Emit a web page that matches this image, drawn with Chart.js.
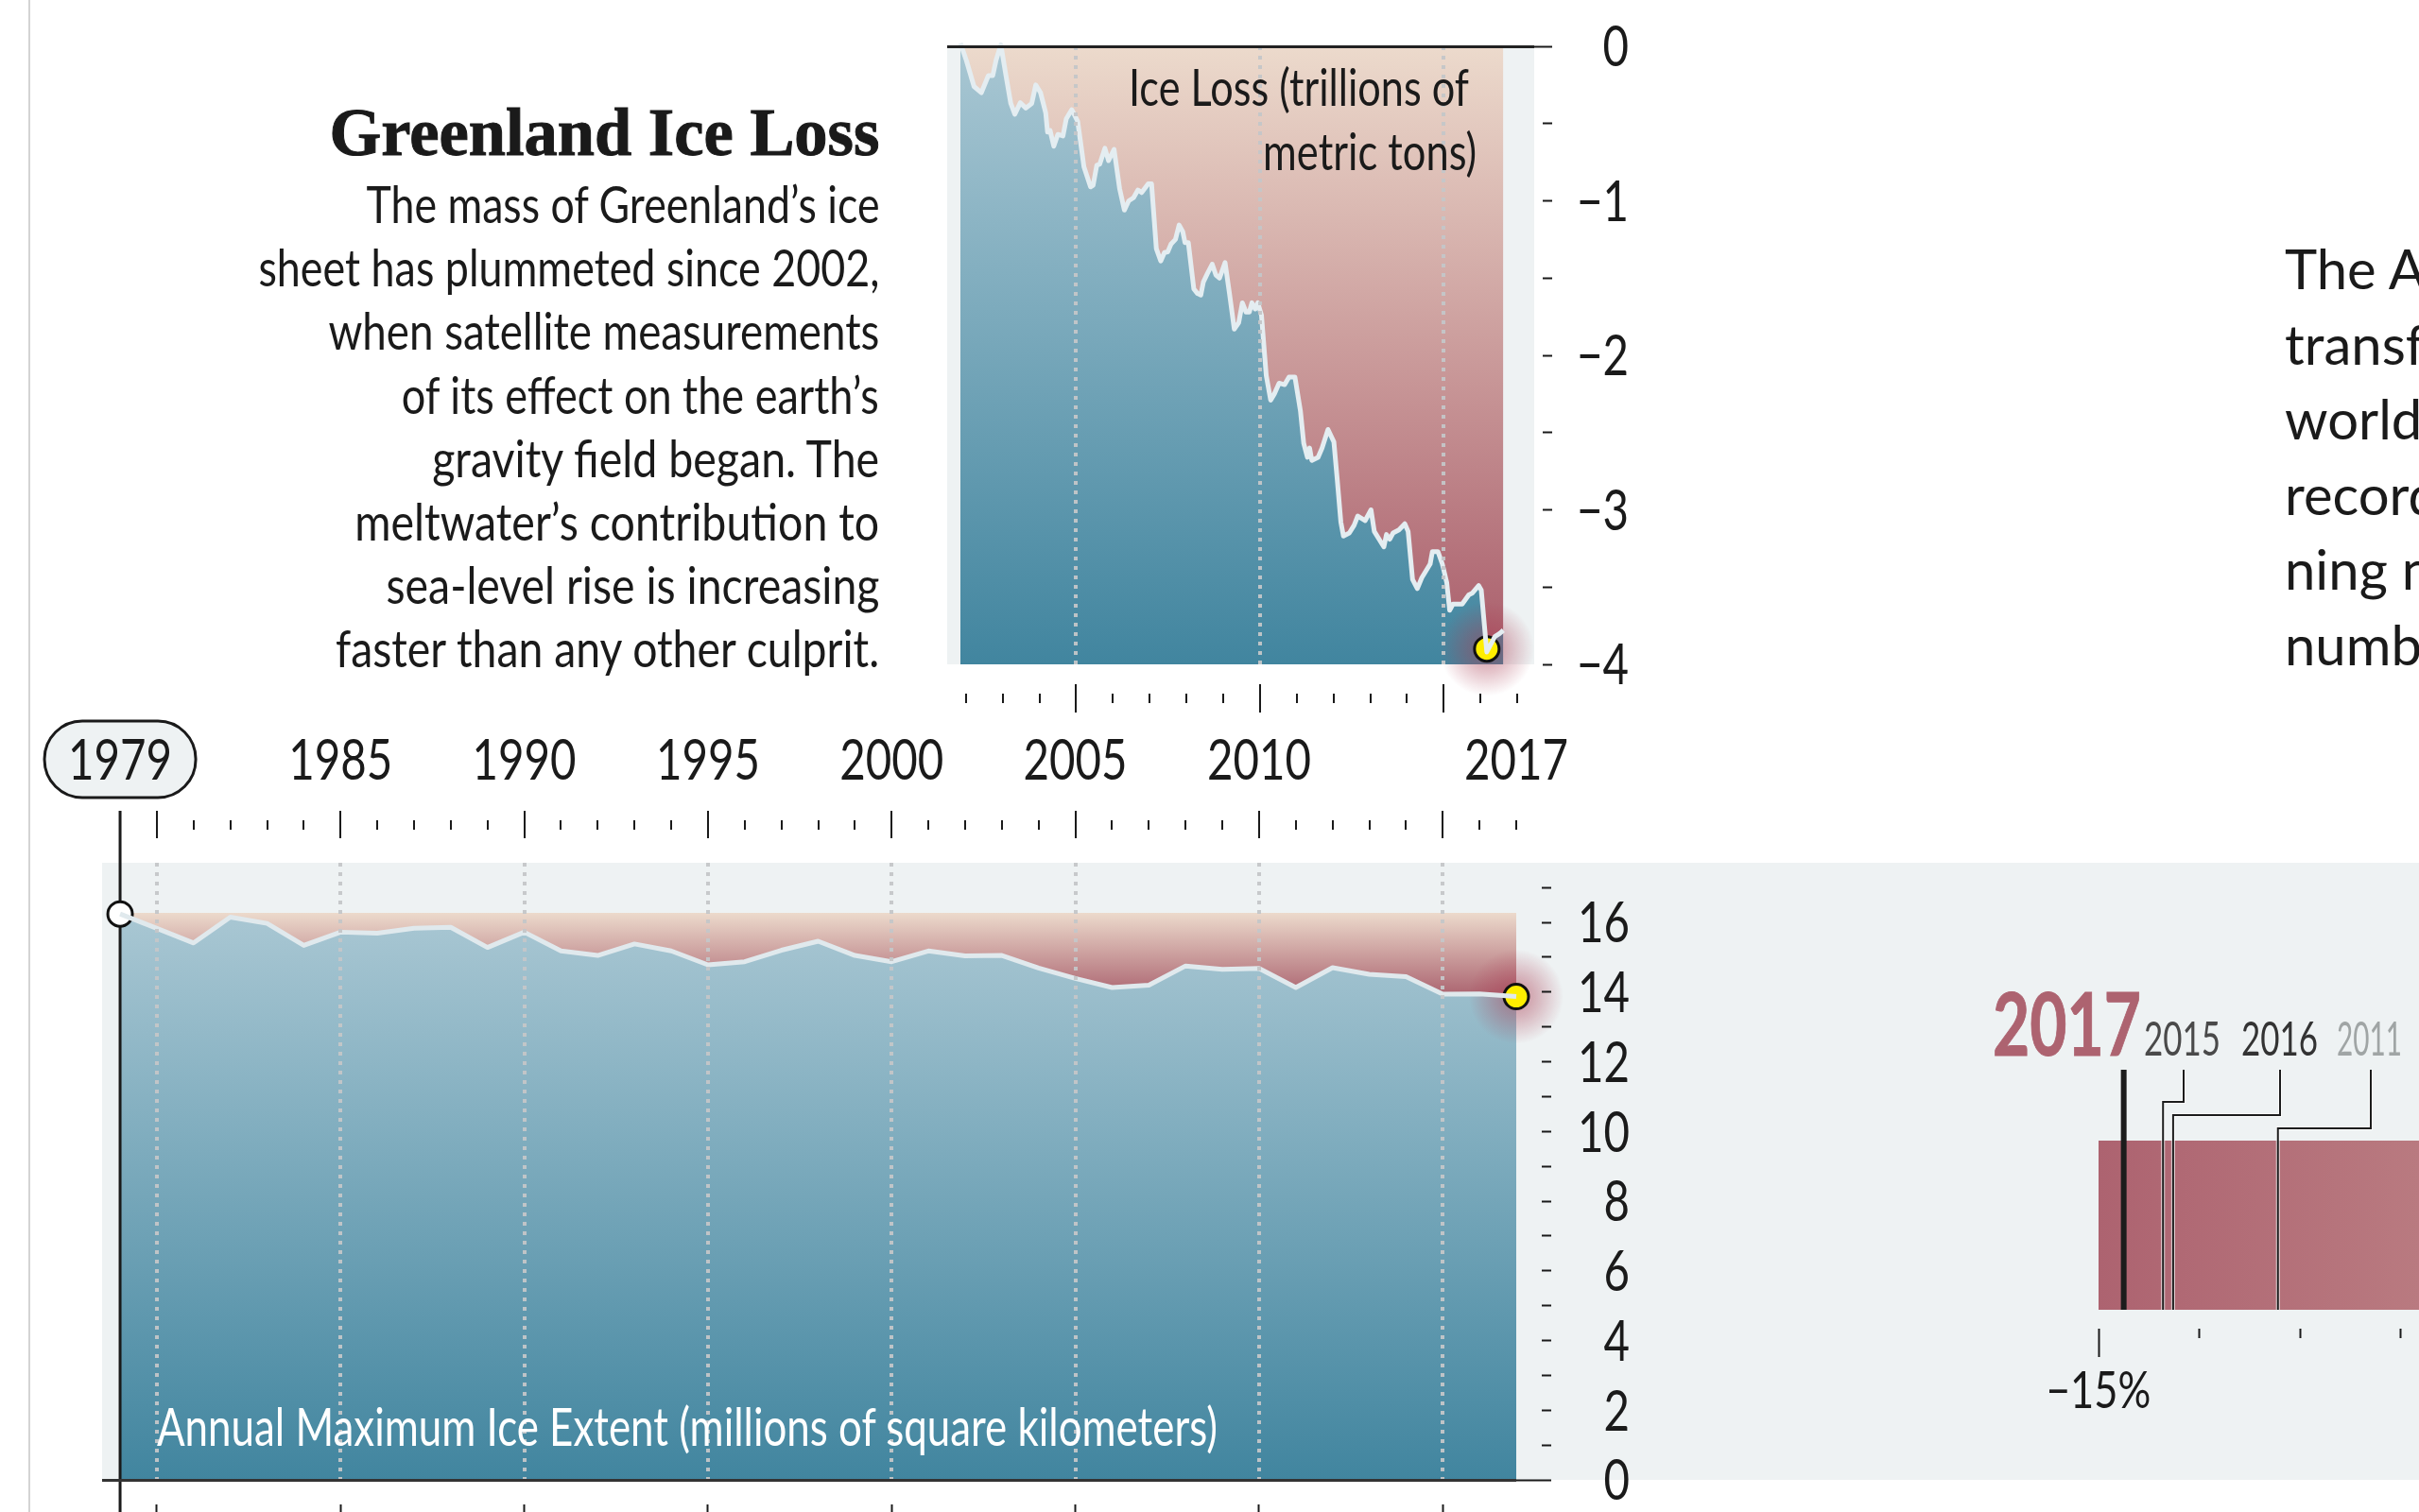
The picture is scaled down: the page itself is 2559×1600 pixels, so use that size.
<!DOCTYPE html>
<html>
<head>
<meta charset="utf-8">
<title>Greenland Ice Loss</title>
<script src="https://cdn.jsdelivr.net/npm/chart.js@4/dist/chart.umd.js"></script>
<style>
  html, body { margin: 0; padding: 0; background: #fff; }
  body { position: relative; width: 2559px; height: 1600px; overflow: hidden; }
  canvas { position: absolute; left: 0; top: 0; }
  .panel { position: absolute; background: #eef2f3; }
  .txt { position: absolute; white-space: nowrap; color: #1a1a1a; z-index: 5; }
</style>
</head>
<body>
<div style="position:absolute;left:30px;top:0;width:2px;height:1600px;background:#d4d4d4"></div>
<div class="panel" style="left:108px;top:913px;width:2451px;height:653px"></div>
<div class="panel" style="left:1002px;top:49px;width:621px;height:654px"></div>
<canvas id="iceLossChart" width="2559" height="1600"></canvas>
<canvas id="extentChart" width="2559" height="1600"></canvas>
<canvas id="rankChart" width="2559" height="1600"></canvas>
<script>
// Greenland mass, trillions of metric tons
const iceYears = [2001.85,2002.01,2002.22,2002.42,2002.61,2002.73,2002.82,2002.95,2003.09,2003.22,2003.33,2003.48,2003.63,2003.79,2003.90,2004.03,2004.17,2004.22,2004.29,2004.39,2004.50,2004.64,2004.73,2004.88,2005.04,2005.14,2005.21,2005.39,2005.46,2005.56,2005.64,2005.78,2005.88,2006.03,2006.18,2006.31,2006.43,2006.56,2006.68,2006.78,2006.96,2007.05,2007.18,2007.30,2007.40,2007.49,2007.58,2007.70,2007.80,2007.90,2007.96,2008.05,2008.20,2008.30,2008.39,2008.46,2008.57,2008.70,2008.80,2008.90,2009.05,2009.17,2009.30,2009.42,2009.52,2009.62,2009.71,2009.78,2009.87,2009.94,2010.04,2010.17,2010.29,2010.39,2010.52,2010.67,2010.79,2010.95,2011.10,2011.19,2011.29,2011.35,2011.41,2011.58,2011.69,2011.85,2012.01,2012.10,2012.20,2012.27,2012.43,2012.56,2012.66,2012.86,2013.02,2013.11,2013.37,2013.44,2013.53,2013.62,2013.78,2013.94,2014.03,2014.15,2014.28,2014.40,2014.63,2014.69,2014.84,2014.96,2015.08,2015.16,2015.25,2015.50,2015.68,2015.77,2015.95,2016.02,2016.17,2016.39,2016.52,2016.62];
const iceLoss = [0.02,-0.09,-0.26,-0.30,-0.19,-0.19,-0.09,0.01,-0.19,-0.37,-0.44,-0.365,-0.40,-0.37,-0.25,-0.30,-0.43,-0.555,-0.545,-0.647,-0.57,-0.58,-0.47,-0.41,-0.485,-0.657,-0.78,-0.91,-0.90,-0.77,-0.763,-0.66,-0.74,-0.667,-0.92,-1.06,-1.00,-0.98,-0.93,-0.947,-0.89,-0.89,-1.31,-1.39,-1.335,-1.33,-1.28,-1.25,-1.157,-1.20,-1.27,-1.27,-1.57,-1.60,-1.61,-1.525,-1.47,-1.41,-1.48,-1.50,-1.40,-1.60,-1.83,-1.79,-1.66,-1.72,-1.72,-1.66,-1.70,-1.66,-1.74,-2.13,-2.29,-2.25,-2.18,-2.19,-2.14,-2.14,-2.36,-2.57,-2.66,-2.60,-2.68,-2.66,-2.60,-2.48,-2.56,-2.80,-3.08,-3.17,-3.15,-3.10,-3.04,-3.07,-3.00,-3.14,-3.24,-3.16,-3.19,-3.15,-3.13,-3.09,-3.14,-3.45,-3.51,-3.44,-3.35,-3.27,-3.27,-3.35,-3.47,-3.65,-3.61,-3.61,-3.55,-3.54,-3.49,-3.52,-3.92,-3.82,-3.80,-3.78];
const iceDot = { x: 2016.17, y: -3.9 };
const iceYTicks = [0,-0.5,-1,-1.5,-2,-2.5,-3,-3.5,-4];
const iceXTicks = [2002,2003,2004,2005,2006,2007,2008,2009,2010,2011,2012,2013,2014,2015,2016,2017];

// annual maximum extent, millions of square kilometers
const extentYears = [1979,1980,1981,1982,1983,1984,1985,1986,1987,1988,1989,1990,1991,1992,1993,1994,1995,1996,1997,1998,1999,2000,2001,2002,2003,2004,2005,2006,2007,2008,2009,2010,2011,2012,2013,2014,2015,2016,2017];
const extentMax = [16.24,15.83,15.41,16.15,15.97,15.34,15.72,15.69,15.83,15.86,15.28,15.72,15.18,15.05,15.38,15.18,14.78,14.87,15.20,15.46,15.05,14.87,15.18,15.04,15.05,14.69,14.39,14.13,14.20,14.75,14.65,14.68,14.13,14.70,14.51,14.44,13.94,13.95,13.87];
const extentYTicks = [0,1,2,3,4,5,6,7,8,9,10,11,12,13,14,15,16,17];
const yearLabels = [1979,1985,1990,1995,2000,2005,2010,2017];
const baselineTicks = [1980,1985,1990,1995,2000,2005,2010,2015];

// ranking strip, percent
const rankTicks = [-15,-14,-13,-12];
const rankRange = [-15,-11.82];
const rankYears = [2017,2015,2016,2011];
const rankValues = [-14.75,-14.36,-14.26,-13.22];

// text
const bodyLines = ["The mass of Greenland\u2019s ice","sheet has plummeted since 2002,","when satellite measurements","of its effect on the earth\u2019s","gravity field began. The","meltwater\u2019s contribution to","sea-level rise is increasing","faster than any other culprit."];
const bodyWidths = [543,657,583,505,473,555,522,575];
const sideLines = ["The A","transf","world","record","ning n","numb"];

const FONT = 'Lato';
const INK = '#1a1a1a';
const DOT_GRID = 'rgba(196,198,200,0.95)';
const SQUEEZE = 0.79;

function isMajorYear(v) { return v % 5 === 0; }

// the labels are a condensed face: squeeze Lato around each text anchor
function condenseCanvasText(id) {
  const ctx = document.getElementById(id).getContext('2d');
  const fill = ctx.fillText.bind(ctx);
  ctx.fillText = (t, x, y) => {
    ctx.save();
    ctx.translate(x, y + 2);
    ctx.scale(SQUEEZE, 1);
    fill(t, 0, 0);
    ctx.restore();
  };
}
['iceLossChart', 'extentChart', 'rankChart'].forEach(condenseCanvasText);

// exact axis boxes, no room reserved for overhanging labels
function fixBox(s, size) {
  if (s.isHorizontal()) s.height = size; else s.width = size;
  s.paddingTop = s.paddingBottom = s.paddingLeft = s.paddingRight = 0;
}

function vGrad(chart, y0, y1, c0, c1) {
  const s = chart.scales.y;
  const p0 = s.getPixelForValue(y0), p1 = s.getPixelForValue(y1);
  if (!Number.isFinite(p0) || !Number.isFinite(p1)) return 'transparent';
  const g = chart.ctx.createLinearGradient(0, p0, 0, p1);
  g.addColorStop(0, c0);
  g.addColorStop(1, c1);
  return g;
}

function glow(chart, pt, r) {
  const x = chart.scales.x.getPixelForValue(pt.x), y = chart.scales.y.getPixelForValue(pt.y);
  const c = chart.ctx;
  const g = c.createRadialGradient(x, y, 0, x, y, r);
  g.addColorStop(0, 'rgba(170,62,84,0.58)');
  g.addColorStop(0.5, 'rgba(170,62,84,0.3)');
  g.addColorStop(1, 'rgba(170,62,84,0)');
  c.save();
  c.fillStyle = g;
  c.beginPath();
  c.arc(x, y, r, 0, Math.PI * 2);
  c.fill();
  c.restore();
}

function xy(xs, ys) { return xs.map((x, i) => ({ x: x, y: ys[i] })); }

const baseOptions = {
  responsive: false,
  animation: false,
  devicePixelRatio: 1,
  events: [],
  plugins: { legend: { display: false }, tooltip: { enabled: false } }
};

// ---------- top chart ----------
new Chart(document.getElementById('iceLossChart'), {
  type: 'line',
  data: {
    datasets: [
      { data: xy(iceYears, iceLoss), borderColor: '#e4edf1', borderWidth: 5, borderJoinStyle: 'round', pointRadius: 0, fill: false, clip: false },
      { data: [iceDot], showLine: false, pointRadius: 13, pointBackgroundColor: '#ffee00', pointBorderColor: '#111', pointBorderWidth: 3, clip: false },
      { data: xy(iceYears, iceLoss), borderWidth: 0, pointRadius: 0, fill: { value: 0 },
        backgroundColor: c => vGrad(c.chart, 0, -3.75, '#ecdacc', '#ad6470') },
      { data: xy(iceYears, iceLoss), borderWidth: 0, pointRadius: 0, fill: { value: -4 },
        backgroundColor: c => vGrad(c.chart, 0, -4, '#a9c7d3', '#41859f') }
    ]
  },
  options: {
    ...baseOptions,
    layout: { autoPadding: false, padding: { left: 1002, top: 49, right: 836, bottom: 846 } },
    scales: {
      x: {
        type: 'linear', position: 'bottom', min: 2001.49, max: 2017.46,
        afterBuildTicks: s => { s.ticks = iceXTicks.map(v => ({ value: v })); },
        afterFit: s => fixBox(s, 51),
        border: { display: false, dash: [4, 6] },
        ticks: { display: false, autoSkip: false },
        grid: {
          z: 1, lineWidth: 4, tickLength: 51, tickWidth: 2, tickColor: INK,
          color: c => (isMajorYear(c.tick.value) ? DOT_GRID : 'transparent'),
          tickBorderDash: c => (isMajorYear(c.tick.value) ? [30, 21] : [10, 41]),
          tickBorderDashOffset: c => (isMajorYear(c.tick.value) ? 30 : 20)
        }
      },
      y: {
        type: 'linear', position: 'right', min: -4, max: 0,
        afterBuildTicks: s => { s.ticks = iceYTicks.map(v => ({ value: v })); },
        afterFit: s => fixBox(s, 100),
        border: { display: false },
        ticks: {
          autoSkip: false, crossAlign: 'far', padding: 0, color: INK,
          font: { family: FONT, size: 60 },
          callback: v => (Number.isInteger(v) ? (v < 0 ? '\u2212' + (-v) : '0') : '')
        },
        grid: {
          z: 1, lineWidth: 3, tickLength: 19, tickWidth: 2, tickColor: INK,
          color: c => (c.tick.value === 0 ? '#222' : 'transparent'),
          tickBorderDash: c => (c.tick.value === 0 ? [] : [10, 9]),
          tickBorderDashOffset: c => (c.tick.value === 0 ? 0 : 10)
        }
      }
    }
  },
  plugins: [{
    id: 'iceGlow',
    afterDatasetDraw(chart, args) { if (args.index === 2) glow(chart, iceDot, 50); }
  }]
});

// ---------- bottom chart ----------
const extentFirst = { x: extentYears[0], y: extentMax[0] };
const extentLast = { x: extentYears[extentYears.length - 1], y: extentMax[extentMax.length - 1] };

new Chart(document.getElementById('extentChart'), {
  type: 'line',
  data: {
    datasets: [
      { data: xy(extentYears, extentMax), borderColor: '#e0e9ed', borderWidth: 5, borderJoinStyle: 'round', pointRadius: 0, fill: false, clip: false },
      { data: [extentLast], showLine: false, pointRadius: 13, pointBackgroundColor: '#ffee00', pointBorderColor: '#111', pointBorderWidth: 3, clip: false },
      { data: [extentFirst], showLine: false, pointRadius: 13, pointBackgroundColor: '#fff', pointBorderColor: '#111', pointBorderWidth: 3, clip: false },
      { data: xy(extentYears, extentMax), borderWidth: 0, pointRadius: 0, fill: { value: 16.27 },
        backgroundColor: c => vGrad(c.chart, 16.27, 13.9, '#ecdacc', '#ab6470') },
      { data: xy(extentYears, extentMax), borderWidth: 0, pointRadius: 0, fill: { value: 0 },
        backgroundColor: c => vGrad(c.chart, 16.27, 0, '#a9c7d3', '#41859f') }
    ]
  },
  options: {
    ...baseOptions,
    layout: { autoPadding: false, padding: { left: 108, top: 733, right: 835, bottom: 0 } },
    scales: {
      x: {
        type: 'linear', position: 'top', min: 1978.51, max: 2017,
        afterBuildTicks: s => { s.ticks = extentYears.map(v => ({ value: v })); },
        afterFit: s => fixBox(s, 180),
        border: { display: false, dash: [4, 6] },
        ticks: {
          autoSkip: false, maxRotation: 0, padding: 18, color: INK,
          font: { family: FONT, size: 60 },
          callback: v => (yearLabels.includes(v) ? String(v) : '')
        },
        grid: {
          z: 1, lineWidth: 4, tickLength: 55, tickWidth: 2,
          color: c => (isMajorYear(c.tick.value) ? DOT_GRID : 'transparent'),
          tickColor: c => (c.tick.value === 1979 ? 'transparent' : INK),
          tickBorderDash: c => (isMajorYear(c.tick.value) ? [29, 26] : [10, 45]),
          tickBorderDashOffset: c => (isMajorYear(c.tick.value) ? 0 : 45)
        }
      },
      x2: {
        type: 'linear', position: 'bottom', min: 1978.51, max: 2017,
        afterBuildTicks: s => { s.ticks = baselineTicks.map(v => ({ value: v })); },
        afterFit: s => fixBox(s, 34),
        border: { display: false },
        ticks: { display: false, autoSkip: false },
        grid: { drawOnChartArea: false, tickLength: 34, tickWidth: 2, tickColor: INK, tickBorderDash: [8, 26], tickBorderDashOffset: 8 }
      },
      y: {
        type: 'linear', position: 'right', min: 0, max: 17.71,
        afterBuildTicks: s => { s.ticks = extentYTicks.map(v => ({ value: v })); },
        afterFit: s => fixBox(s, 120),
        border: { display: false },
        ticks: {
          autoSkip: false, crossAlign: 'far', padding: -4, color: INK,
          font: { family: FONT, size: 60 },
          callback: v => (v % 2 === 0 ? String(v) : '')
        },
        grid: {
          z: 1, lineWidth: 3, tickLength: 37, tickWidth: 2, tickColor: INK,
          color: c => (c.tick.value === 0 ? '#333' : 'transparent'),
          tickBorderDash: c => (c.tick.value === 0 ? [] : [10, 27]),
          tickBorderDashOffset: c => (c.tick.value === 0 ? 0 : 10)
        }
      }
    }
  },
  plugins: [{
    id: 'extentExtras',
    beforeDraw(chart) {
      // pill behind the 1979 label
      const c = chart.ctx, x = chart.scales.x.getPixelForValue(1979);
      c.save();
      c.beginPath();
      c.roundRect(x - 80, 763, 160, 81, 40);
      c.fillStyle = '#eef2f3';
      c.fill();
      c.lineWidth = 3;
      c.strokeStyle = INK;
      c.stroke();
      c.restore();
    },
    afterDatasetDraw(chart, args) {
      if (args.index !== 3) return;
      const c = chart.ctx, x = chart.scales.x.getPixelForValue(1979);
      glow(chart, extentLast, 50);
      c.save();
      c.strokeStyle = INK;
      c.lineWidth = 3;
      c.beginPath();
      c.moveTo(x, 858);
      c.lineTo(x, 1600);
      c.stroke();
      c.restore();
    }
  }]
});

// ---------- ranking strip ----------
new Chart(document.getElementById('rankChart'), {
  type: 'bar',
  data: {
    labels: ['Extent'],
    datasets: [{
      data: [rankRange],
      barPercentage: 1, categoryPercentage: 1, borderWidth: 0,
      backgroundColor: c => {
        const s = c.chart.scales.x;
        const p0 = s.getPixelForValue(-15), p1 = s.getPixelForValue(-11.82);
        if (!Number.isFinite(p0) || !Number.isFinite(p1)) return 'transparent';
        const g = c.chart.ctx.createLinearGradient(p0, 0, p1, 0);
        g.addColorStop(0, '#ad6370');
        g.addColorStop(1, '#b97a80');
        return g;
      }
    }]
  },
  options: {
    ...baseOptions,
    indexAxis: 'y',
    layout: { autoPadding: false, padding: { left: 2220, top: 1207, right: 0, bottom: 64 } },
    scales: {
      x: {
        type: 'linear', position: 'bottom', min: rankRange[0], max: rankRange[1],
        afterBuildTicks: s => { s.ticks = rankTicks.map(v => ({ value: v })); },
        afterFit: s => fixBox(s, 150),
        border: { display: false },
        ticks: {
          autoSkip: false, maxRotation: 0, padding: 1, color: INK,
          font: { family: FONT, size: 55 },
          callback: v => (v === -15 ? '\u221215%' : '')
        },
        grid: {
          drawOnChartArea: false, tickLength: 50, tickWidth: 2, tickColor: INK,
          tickBorderDash: c => (c.tick.value === -15 ? [30, 20] : [10, 40]),
          tickBorderDashOffset: 30
        }
      },
      y: { display: false }
    }
  },
  plugins: [{
    id: 'rankMarkers',
    afterDatasetsDraw(chart) {
      const c = chart.ctx, s = chart.scales.x;
      const top = 1132, bottom = chart.chartArea.bottom;
      const xs = rankValues.map(v => s.getPixelForValue(v));
      // leader lines: [label x, elbow y] for every year but the first
      const leaders = [null, [2310, 1166], [2412, 1180], [2508, 1194]];
      c.save();
      xs.forEach((x, i) => {
        const path = leaders[i]
          ? [[leaders[i][0], top], [leaders[i][0], leaders[i][1]], [x, leaders[i][1]], [x, bottom]]
          : [[x, top], [x, bottom]];
        const trace = () => {
          c.beginPath();
          path.forEach((p, j) => (j ? c.lineTo(p[0], p[1]) : c.moveTo(p[0], p[1])));
          c.stroke();
        };
        c.lineJoin = 'miter';
        if (leaders[i]) {
          c.strokeStyle = 'rgba(255,255,255,0.75)';
          c.lineWidth = 4;
          trace();
        }
        c.strokeStyle = '#1c1c1c';
        c.lineWidth = leaders[i] ? 2 : 6;
        trace();
      });
      c.restore();
    }
  }]
});

// ---------- text ----------
// x is the anchor (right edge when alignRight), width squeezes the line to the reference width
function addText(str, x, baseline, css, alignRight, width) {
  const d = document.createElement('div');
  d.className = 'txt';
  d.style.cssText = css;
  d.textContent = str;
  if (alignRight) d.style.right = (2559 - x) + 'px'; else d.style.left = x + 'px';
  const mark = document.createElement('span');
  mark.style.cssText = 'display:inline-block;width:0;height:0';
  d.appendChild(mark);
  document.body.appendChild(d);
  d.style.top = '0px';
  d.style.top = (baseline - mark.getBoundingClientRect().bottom) + 'px';
  if (width) {
    d.style.transformOrigin = alignRight ? 'right center' : 'left center';
    d.style.transform = `scaleX(${width / d.getBoundingClientRect().width})`;
  }
}

const latoCss = size => `font-family:${FONT};font-size:${size}px;`;

addText('Greenland Ice Loss', 930, 164, 'font-family:"Liberation Serif";font-weight:700;font-size:71px;-webkit-text-stroke:1px #1a1a1a;', true, 582);
bodyLines.forEach((line, i) => addText(line, 930, 236 + i * 67.2, latoCss(54), true, bodyWidths[i]));
addText('Ice Loss (trillions of', 1554, 112, latoCss(55), true, 360);
addText('metric tons)', 1562, 180, latoCss(55), true, 226);
addText('Annual Maximum Ice Extent (millions of square kilometers)', 166, 1530, latoCss(57) + 'color:#fff;', false, 1122);
sideLines.forEach((line, i) => addText(line, 2417, 306 + i * 79.6, latoCss(58)));

addText(String(rankYears[0]), 2108, 1117, latoCss(92) + 'font-weight:700;-webkit-text-stroke:1px #ad6370;color:#ad6370;', false, 157);
addText(String(rankYears[1]), 2268, 1117, latoCss(50) + 'color:#4a4a4a;', false, 81);
addText(String(rankYears[2]), 2371, 1117, latoCss(50) + 'color:#333;', false, 81);
addText(String(rankYears[3]), 2472, 1117, latoCss(50) + 'color:#a0a5a5;', false, 69);
</script>
</body>
</html>
